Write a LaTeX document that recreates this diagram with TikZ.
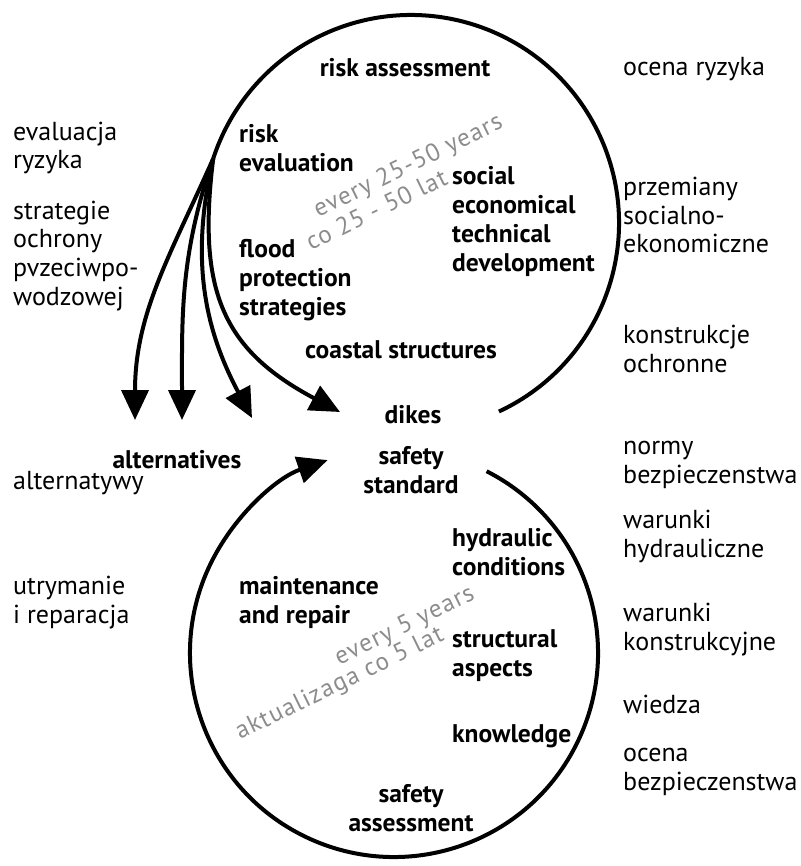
\documentclass[tikz,border=0pt]{standalone}
\usepackage{fontspec}
\setmainfont{PT Sans}
\usetikzlibrary{arrows.meta}

\begin{document}
\begin{tikzpicture}[x=1pt,y=1pt,
  term/.style={font=\fontsize{25.5}{29}\selectfont\bfseries, align=left, inner sep=0pt},
  pl/.style={font=\fontsize{26}{28.5}\selectfont, align=left, inner sep=0pt, anchor=base west},
  period/.style={font=\fontsize{25}{26.6}\selectfont\addfontfeature{LetterSpace=5}, text=black!45, align=left, inner sep=0pt, anchor=base west, rotate=26},
  loop/.style={line width=4pt},
  >={Triangle[length=30pt,width=27pt]}]
  \useasboundingbox (0,0) rectangle (800,-866);
  % upper cycle
  \node[term, anchor=base] (ra) at (405,-77) {risk assessment};
  \node[term, anchor=base west] (re) at (239,-172) {risk\\evaluation};
  \node[term, anchor=base west] (sd) at (452,-272) {social\\economical\\technical\\development};
  \node[term, anchor=base west] (fp) at (239,-315) {flood\\protection\\strategies};
  \node[term, anchor=base] (cs) at (401,-358) {coastal structures};
  \node[term, anchor=base] (dk) at (413,-423) {dikes};
  \node[period] (up) at (311,-251) {\hspace*{21pt}every 25-50 years\\co 25 - 50 lat};
  % lower cycle
  \node[term, anchor=base, align=center] (ss) at (411,-493) {safety\\standard};
  \node[term, anchor=base west] (hc) at (452,-575) {hydraulic\\conditions};
  \node[term, anchor=base west] (mr) at (239,-623) {maintenance\\and repair};
  \node[term, anchor=base west] (sa) at (452,-676) {structural\\aspects};
  \node[term, anchor=base west] (kn) at (452,-742) {knowledge};
  \node[term, anchor=base, align=center] (sf) at (411,-831) {safety\\assessment};
  \node[term, anchor=base] (al) at (177,-468) {alternatives};
  \node[period, font=\fontsize{25}{21}\selectfont\addfontfeature{LetterSpace=5}] (lo) at (240,-740) {\hspace*{122pt}every 5 years\\aktualizaga co 5 lat};
  % polish side notes
  \node[pl] (pl1) at (13,-169) {evaluacja\\ryzyka};
  \node[pl] (pl2) at (13,-305) {strategie\\ochrony\\pvzeciwpo-\\wodzowej};
  \node[pl] (pl3) at (13,-489) {alternatywy};
  \node[pl] (pl4) at (13,-623) {utrymanie\\i reparacja};
  \node[pl] (pr1) at (623,-76) {ocena ryzyka};
  \node[pl] (pr2) at (623,-253) {przemiany\\socialno-\\ekonomiczne};
  \node[pl] (pr3) at (623,-372) {konstrukcje\\ochronne};
  \node[pl] (pr4) at (623,-483) {normy\\bezpieczenstwa};
  \node[pl] (pr5) at (623,-557) {warunki\\hydrauliczne};
  \node[pl] (pr6) at (623,-650) {warunki\\konstrukcyjne};
  \node[pl] (pr7) at (623,-713) {wiedza};
  \node[pl] (pr8) at (623,-790) {ocena\\bezpieczenstwa};
  % loops
  \draw[loop] (411,-223) ++(-65:208) arc[start angle=-65, end angle=162, radius=208] coordinate (fork);
  \draw[loop,->] (394,-653) ++(63:204) arc[start angle=63, end angle=-251, radius=204] coordinate (back);
  \coordinate (t1) at (135,-420);
  \coordinate (t2) at (182,-420);
  \coordinate (t3) at (252,-418);
  \coordinate (t4) at (340,-412);
  \draw[loop,->] (fork) to[out=246, in=90] (t1);
  \draw[loop,->] (fork) to[out=251, in=90] (t2);
  \draw[loop,->] (fork) to[out=257, in=118] (t3);
  \draw[loop,->] (fork) to[out=263, in=152, looseness=1.2] (t4);
\end{tikzpicture}
\end{document}
